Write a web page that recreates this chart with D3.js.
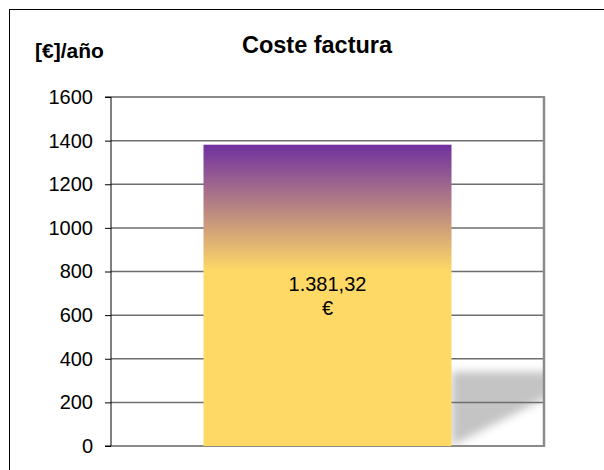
<!DOCTYPE html>
<html><head><meta charset="utf-8">
<script src="https://cdn.jsdelivr.net/npm/d3@7"></script>
<style>body{margin:0;background:#fff}svg{display:block;font-family:"Liberation Sans",Arial,sans-serif}</style>
</head><body>
<svg id="c" width="604" height="470"></svg>
<script>
const categories = ["Coste factura"];
const values = [1381.32];
const yTicks = [0, 200, 400, 600, 800, 1000, 1200, 1400, 1600];
const title = "Coste factura";
const unitLabel = "[€]/año";

const svg = d3.select("#c");
const L = 111, R = 544, T = 97, B = 446;
const es = d3.formatLocale({decimal: ",", thousands: ".", grouping: [3], currency: ["", " €"]});
const fmt = es.format(",.2f");

const x = d3.scaleBand().domain(categories).range([L, R]).paddingInner(0).paddingOuter(0.373);
const y = d3.scaleLinear().domain([0, 1600]).range([B, T]);

const defs = svg.append("defs");
const g = defs.append("linearGradient").attr("id", "bg").attr("x1", 0).attr("y1", 0).attr("x2", 0).attr("y2", 1);
g.append("stop").attr("offset", 0).attr("stop-color", "#7030A0");
g.append("stop").attr("offset", 0.42).attr("stop-color", "#FFD966");
g.append("stop").attr("offset", 1).attr("stop-color", "#FFD966");
defs.append("filter").attr("id", "blur").attr("x", "-20%").attr("y", "-20%").attr("width", "140%").attr("height", "140%")
  .append("feGaussianBlur").attr("stdDeviation", 4);
defs.append("clipPath").attr("id", "pc").append("rect").attr("x", L).attr("y", T).attr("width", R - L).attr("height", B - T);

// outer border
svg.append("rect").attr("x", 9.5).attr("y", 9.5).attr("width", 800).attr("height", 800)
  .attr("fill", "none").attr("stroke", "#000").attr("stroke-width", 1);

// shadow
const bx0 = x(categories[0]) + x.bandwidth();
svg.append("g").attr("clip-path", "url(#pc)").append("polygon")
  .attr("points", [[bx0, B], [bx0, y(340)], [R + 10, y(340)], [R + 10, y(240)]].map(p => p.join(",")).join(" "))
  .attr("fill", "#c4c4c4").attr("filter", "url(#blur)");

// gridlines
svg.append("g").selectAll("line").data(yTicks.filter(d => d > 0 && d < 1600)).join("line")
  .attr("x1", L).attr("x2", R).attr("y1", d => y(d)).attr("y2", d => y(d))
  .attr("stroke", "#6e6e6e").attr("stroke-width", 1.5);

// plot border top & right
svg.append("line").attr("x1", L).attr("x2", R + 1).attr("y1", T).attr("y2", T).attr("stroke", "#8a8a8a").attr("stroke-width", 2);
svg.append("line").attr("x1", R).attr("x2", R).attr("y1", T).attr("y2", B + 1).attr("stroke", "#8a8a8a").attr("stroke-width", 2.5);
svg.append("line").attr("x1", L).attr("x2", R + 1).attr("y1", B).attr("y2", B).attr("stroke", "#8a8a8a").attr("stroke-width", 2);

// bars
svg.append("g").selectAll("rect").data(values).join("rect")
  .attr("x", (d, i) => x(categories[i])).attr("width", x.bandwidth())
  .attr("y", d => y(d)).attr("height", d => B - y(d)).attr("fill", "url(#bg)");

// y axis
const ax = svg.append("g").attr("transform", `translate(${L},0)`)
  .call(d3.axisLeft(y).tickValues(yTicks).tickSize(6).tickPadding(12).tickFormat(d3.format("d")));
ax.select(".domain").attr("stroke", "#000").attr("d", `M-6,${T}H0V${B}H-6`);
ax.selectAll(".tick line").attr("stroke", "#000");
ax.selectAll("text").attr("font-size", 20).attr("fill", "#000").attr("font-family", "Liberation Sans, Arial, sans-serif");

// data label
values.forEach((v, i) => {
  const cx = x(categories[i]) + x.bandwidth() / 2;
  const t = svg.append("text").attr("text-anchor", "middle").attr("font-size", 20).attr("fill", "#000");
  t.append("tspan").attr("x", cx).attr("y", 291).text(fmt(v));
  t.append("tspan").attr("x", cx).attr("y", 315).text("€");
});

svg.append("text").attr("x", 317).attr("y", 53).attr("text-anchor", "middle").attr("font-size", 23.5).attr("font-weight", "bold").text(title);
svg.append("text").attr("x", 35).attr("y", 58).attr("font-size", 21).attr("font-weight", "bold").text(unitLabel);
</script>
</body></html>
